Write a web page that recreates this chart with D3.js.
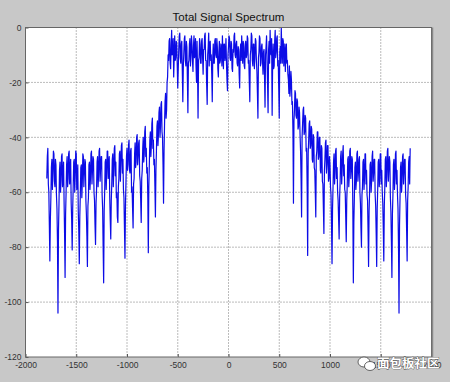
<!DOCTYPE html>
<html>
<head>
<meta charset="utf-8">
<script src="https://cdn.jsdelivr.net/npm/d3@7/dist/d3.min.js"></script>
<style>
    body { margin: 0; background: #c8c8c8; }
    svg { display: block; }
</style>
</head>
<body>
<div id="spectrum"></div>
<script>
// Spectrum samples in dB at 5 Hz spacing, split by region
const startFreq = -1790;
const freqStep = 5;

// -1790 .. -995 Hz
const leftSideband = [
    -55, -47, -44, -57, -60, -72, -85, -70, -62, -51, -48, -59, -53, -45, -46, -56, -58, -48, -50, -61,
    -66, -78, -104, -74, -64, -52, -49, -60, -56, -47, -46, -58, -54, -49, -63, -75, -91, -68, -60, -50,
    -47, -58, -55, -46, -45, -57, -52, -48, -64, -70, -81, -66, -58, -49, -48, -60, -54, -45, -46, -59,
    -57, -50, -67, -74, -86, -69, -61, -51, -50, -62, -56, -46, -47, -58, -53, -48, -49, -63, -68, -76,
    -87, -65, -62, -50, -49, -59, -55, -46, -45, -57, -52, -47, -48, -60, -63, -72, -79, -64, -59, -49,
    -47, -58, -54, -45, -44, -56, -51, -47, -47, -61, -66, -80, -93, -67, -60, -49, -48, -59, -53, -45,
    -45, -55, -50, -47, -62, -70, -77, -63, -57, -48, -46, -58, -52, -44, -43, -54, -49, -62, -60, -69,
    -71, -58, -55, -46, -45, -56, -50, -43, -42, -53, -48, -59, -62, -73, -84, -65, -56, -47, -44, -52
];
// -990 .. -595 Hz
const leftSkirt = [
    -50, -43, -41, -52, -53, -45, -44, -60, -58, -66, -73, -57, -55, -46, -42, -51, -49, -40, -39, -50,
    -47, -42, -41, -54, -56, -63, -71, -55, -52, -44, -40, -49, -46, -38, -36, -47, -44, -53, -51, -62,
    -82, -58, -50, -41, -38, -47, -43, -35, -33, -44, -41, -50, -48, -58, -69, -52, -45, -36, -34, -43,
    -39, -31, -29, -40, -36, -28, -27, -38, -40, -50, -64, -45, -35, -27, -24, -33, -30, -20, -18, -10
];
// -590 .. 595 Hz
const mainLobe = [
    -12, -5, -4, -13, -15, -6, -1, -10, -9, -4, -18, -11, -3, -12, -11, -5, -6, -14, -22, -15,
    -8, -3, -2, -11, -13, -6, -5, -16, -27, -14, -9, -4, -3, -12, -14, -5, -7, -19, -31, -13,
    -12, -6, -4, -14, -10, -3, -6, -12, -16, -7, -3, -11, -9, -4, -14, -20, -5, -15, -33, -12,
    -11, -4, -6, -13, -13, -5, -4, -11, -17, -8, -8, -3, -2, -12, -12, -21, -28, -10, -7, -2,
    -14, -6, -5, -12, -10, -17, -27, -11, -6, -13, -13, -5, -4, -10, -11, -4, -7, -15, -18, -9,
    -5, -13, -12, -6, -8, -14, -3, -9, -15, -6, -6, -12, -10, -4, -13, -19, -23, -10, -7, -3,
    -4, -11, -12, -5, -6, -15, -16, -8, -9, -3, -2, -10, -11, -6, -5, -13, -14, -7, -8, -17,
    -22, -9, -6, -12, -3, -8, -13, -5, -7, -14, -15, -6, -5, -11, -10, -3, -4, -13, -12, -20,
    -27, -10, -8, -2, -3, -12, -14, -6, -6, -15, -11, -4, -5, -12, -16, -24, -33, -11, -9, -3,
    -4, -14, -13, -7, -6, -12, -17, -9, -8, -18, -29, -10, -7, -3, -12, -21, -31, -8, -5, -13,
    -1, -9, -10, -4, -32, -12, -6, -15, -14, -5, -1, -11, -9, -4, -3, -14, -12, -22, -33, -9,
    -7, -13, 0, -8, -13, -4, -5, -14, -10, -6, -16, -9, -6, -13, -12, -17, -19, -24
];
// 600 .. 995 Hz
const rightSkirt = [
    -14, -25, -22, -16, -19, -28, -27, -38, -64, -34, -30, -23, -24, -32, -33, -26, -27, -37, -36, -29,
    -31, -39, -45, -55, -69, -40, -35, -30, -29, -39, -38, -32, -33, -45, -44, -58, -83, -46, -41, -35,
    -34, -44, -43, -36, -37, -48, -49, -39, -40, -51, -52, -60, -69, -47, -45, -38, -38, -48, -47, -40,
    -40, -52, -53, -43, -44, -56, -57, -66, -75, -52, -48, -42, -41, -53, -50, -43, -43, -56, -55, -47
];
// 1000 .. 1790 Hz
const rightSideband = [
    -50, -58, -61, -72, -86, -66, -58, -49, -46, -57, -53, -45, -44, -55, -51, -60, -63, -70, -77, -62,
    -56, -47, -45, -57, -52, -46, -43, -54, -50, -59, -60, -69, -78, -63, -57, -48, -47, -58, -54, -45,
    -44, -55, -52, -47, -48, -66, -93, -71, -62, -51, -49, -59, -56, -46, -45, -56, -53, -48, -47, -60,
    -64, -73, -80, -61, -58, -49, -48, -59, -55, -46, -46, -57, -52, -61, -63, -74, -87, -67, -60, -50,
    -49, -60, -56, -47, -45, -56, -53, -48, -48, -61, -65, -75, -87, -66, -59, -49, -48, -58, -55, -46,
    -46, -57, -52, -60, -64, -73, -85, -65, -58, -48, -47, -58, -54, -45, -44, -56, -51, -47, -49, -62,
    -67, -78, -91, -68, -61, -50, -48, -59, -55, -46, -45, -57, -52, -61, -66, -80, -104, -72, -62, -51,
    -49, -60, -56, -47, -46, -57, -53, -48, -48, -61, -64, -74, -85, -63, -58, -49, -47, -57, -44
];

const xTicks = [-2000, -1500, -1000, -500, 0, 500, 1000, 1500, 2000];
const yTicks = [0, -20, -40, -60, -80, -100, -120];

function createVisualization() {
    const width = 450;
    const height = 382;
    const margin = { top: 27.5, right: 18.5, bottom: 25, left: 25.5 };
    const innerW = width - margin.left - margin.right;
    const innerH = height - margin.top - margin.bottom;

    const svg = d3.select("#spectrum")
        .append("svg")
        .attr("width", width)
        .attr("height", height);

    const g = svg.append("g")
        .attr("transform", `translate(${margin.left},${margin.top})`);

    const x = d3.scaleLinear().domain([-2000, 2000]).range([0, innerW]);
    const y = d3.scaleLinear().domain([-120, 0]).range([innerH, 0]);

    // join the regions into one trace
    const values = [].concat(leftSideband, leftSkirt, mainLobe, rightSkirt, rightSideband);
    const points = values.map((v, i) => ({ f: startFreq + i * freqStep, v: v }));

    // white plot area
    g.append("rect")
        .attr("width", innerW)
        .attr("height", innerH)
        .attr("fill", "#fff");

    // dotted grid
    g.selectAll(".vgrid")
        .data(xTicks.slice(1, -1))
        .enter()
        .append("line")
        .attr("x1", d => x(d)).attr("x2", d => x(d))
        .attr("y1", 0).attr("y2", innerH)
        .attr("stroke", "#555")
        .attr("stroke-width", 0.8)
        .attr("stroke-dasharray", "1,2");

    g.selectAll(".hgrid")
        .data(yTicks.slice(1, -1))
        .enter()
        .append("line")
        .attr("x1", 0).attr("x2", innerW)
        .attr("y1", d => y(d)).attr("y2", d => y(d))
        .attr("stroke", "#555")
        .attr("stroke-width", 0.8)
        .attr("stroke-dasharray", "1,2");

    // spectrum trace
    const line = d3.line()
        .x(d => x(d.f))
        .y(d => y(d.v));

    g.append("path")
        .datum(points)
        .attr("fill", "none")
        .attr("stroke", "#0c0ce6")
        .attr("stroke-width", 1.2)
        .attr("stroke-linejoin", "round")
        .attr("d", line);

    // axes, ticks pointing inward, plain hyphen minus like the original
    const fmt = d => String(d);
    const xAxis = g.append("g")
        .attr("transform", `translate(0,${innerH})`)
        .call(d3.axisBottom(x).tickValues(xTicks).tickFormat(fmt)
            .tickSizeInner(-3).tickSizeOuter(0).tickPadding(5));

    const yAxis = g.append("g")
        .call(d3.axisLeft(y).tickValues(yTicks).tickFormat(fmt)
            .tickSizeInner(-3).tickSizeOuter(0).tickPadding(4));

    [xAxis, yAxis].forEach(ax => {
        ax.select(".domain").remove();
        ax.selectAll("line").attr("stroke", "#555");
        ax.selectAll("text")
            .attr("fill", "#333")
            .style("font-family", "'Liberation Sans', Arial, sans-serif")
            .style("font-size", "8.5px");
    });

    // axes box, darker edge on the right as in the original
    g.append("rect")
        .attr("width", innerW)
        .attr("height", innerH)
        .attr("fill", "none")
        .attr("stroke", "#666")
        .attr("stroke-width", 1);
    g.append("line")
        .attr("x1", innerW + 1).attr("x2", innerW + 1)
        .attr("y1", 0).attr("y2", innerH)
        .attr("stroke", "#888")
        .attr("stroke-width", 1.5);

    svg.append("text")
        .attr("x", margin.left + innerW / 2)
        .attr("y", 21)
        .attr("text-anchor", "middle")
        .attr("fill", "#111")
        .style("font-family", "'Liberation Sans', Arial, sans-serif")
        .style("font-size", "11.5px")
        .text("Total Signal Spectrum");

    // watermark in the corner
    const wm = svg.append("g").attr("transform", "translate(366,363)");
    wm.append("ellipse").attr("cx", -2).attr("cy", -1).attr("rx", 6).attr("ry", 5)
        .attr("fill", "#fff").attr("stroke", "#444").attr("stroke-width", 0.8);
    wm.append("ellipse").attr("cx", 4).attr("cy", 3).attr("rx", 5.5).attr("ry", 4.5)
        .attr("fill", "#fff").attr("stroke", "#444").attr("stroke-width", 0.8);
    wm.append("text")
        .attr("x", 11)
        .attr("y", 5)
        .attr("fill", "#fff")
        .attr("stroke", "#333")
        .attr("stroke-width", 0.7)
        .attr("paint-order", "stroke")
        .style("font-family", "'Noto Sans CJK SC', sans-serif")
        .style("font-size", "12.5px")
        .style("font-weight", "bold")
        .text("面包板社区");
}

document.addEventListener('DOMContentLoaded', createVisualization);
</script>
</body>
</html>
